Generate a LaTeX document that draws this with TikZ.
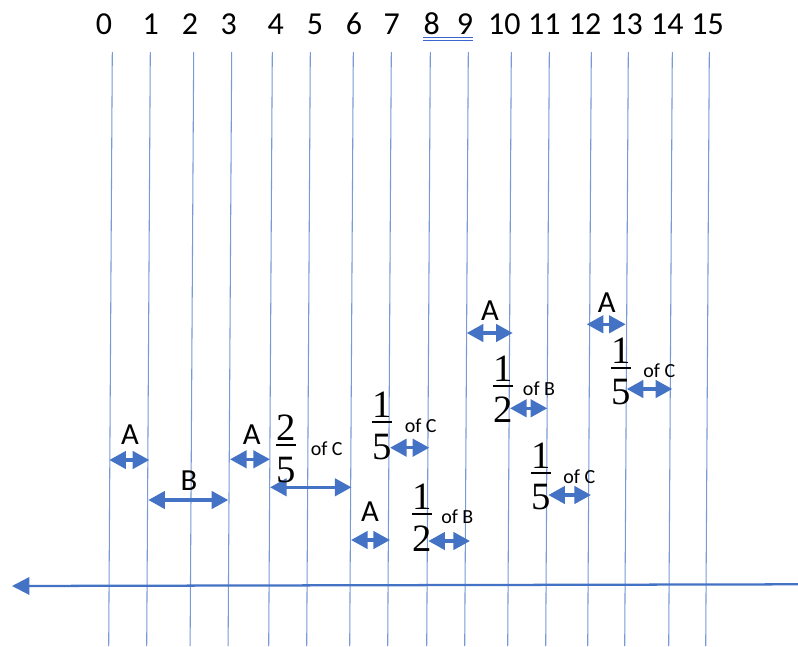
\documentclass[tikz,border=0pt]{standalone}
\usepackage{fontspec}
\setmainfont{Carlito}
\newfontfamily\fracfont{Liberation Serif}
\usepackage{tikz}
\usetikzlibrary{arrows.meta}

\definecolor{office}{HTML}{4472C4}
\definecolor{gridblue}{HTML}{7A9AD6}
\definecolor{ulblue}{HTML}{3B66D0}

% fraction: name, x, y of the bar, numerator, denominator
\newcommand\fracat[5]{%
  \node[fracdigit] (#1n) at (#2,#3-4.5) {#4};
  \node[fracdigit] (#1d) at (#2,#3+37) {#5};
  \coordinate (#1l) at (#2-10,#3);
  \coordinate (#1r) at (#2+10,#3);
  \draw[fbar] (#1l) -- (#1r);}

\begin{document}
\begin{tikzpicture}[
    x=0.75pt, y=-0.75pt,
    gridline/.style={draw=gridblue, line width=0.8pt},
    axis/.style={draw=office, line width=1.7pt, -{Triangle[length=13pt, width=13pt]}},
    span/.style={draw=office, line width=2.6pt,
      {Triangle[length=12.5pt, width=13pt]}-{Triangle[length=12.5pt, width=13pt]}},
    num/.style={anchor=base, inner sep=0pt, font=\fontsize{24}{28}\selectfont},
    letter/.style={anchor=base, inner sep=0pt, font=\fontsize{23}{27}\selectfont},
    ofpart/.style={anchor=base, inner sep=0pt, font=\fontsize{15}{18}\selectfont},
    fracdigit/.style={anchor=base, inner sep=0pt, font=\fracfont\fontsize{29}{33}\selectfont},
    fbar/.style={draw=black, line width=1.5pt},
    uline/.style={draw=ulblue, line width=0.6pt}
  ]
  \useasboundingbox (0,0) rectangle (798,646);

  % vertical lines, slightly slanted
  \foreach \x [count=\i from 0] in {112.3,150.3,193.7,231.7,272.3,310.3,353.3,391.3,
      430.3,468.3,511.3,549.3,591.3,628.3,672.3,709.3} {
    \coordinate (t\i) at (\x,52);
    \coordinate (b\i) at (\x-3.6,646);
    \draw[gridline] (t\i) -- (b\i);
  }

  % numbers on top
  \foreach \x [count=\i from 0] in {104,150.7,190,228.7,275.7,315,354,391.7,
      431.7,465,504.3,544.3,585,626.7,667.3,707.7}
    \node[num] (n\i) at (\x,34) {\i};
  \draw[uline] ([yshift=-2.5pt]n8.base west) -- ([yshift=-2.5pt]n9.base east);
  \draw[uline] ([yshift=-4.5pt]n8.base west) -- ([yshift=-4.5pt]n9.base east);

  % the axis
  \coordinate (axisR) at (798,584.3);
  \coordinate (axisL) at (12,586);
  \draw[axis] (axisR) -- (axisL);

  % spans
  \foreach \xa/\xb/\y [count=\i] in {109.3/149.3/460, 148.3/228.3/500, 230/270/459.3,
      270/351.5/487.3, 390/429.3/447.7, 351/390/540, 428.3/470/541, 466.7/512.7/333,
      510/547.3/408.3, 586.7/625.7/324.3, 626.7/672.3/389, 548.3/591/495} {
    \coordinate (s\i l) at (\xa,\y);
    \coordinate (s\i r) at (\xb,\y);
    \draw[span] (s\i l) -- (s\i r);
  }

  % letters
  \node[letter] (a1) at (130,444) {A};
  \node[letter] (b1) at (189,490) {B};
  \node[letter] (a2) at (251.7,444) {A};
  \node[letter] (a3) at (370,521.7) {A};
  \node[letter] (a4) at (490,320) {A};
  \node[letter] (a5) at (606.7,312.7) {A};

  % fractions
  \fracat{f1}{286}{445}{2}{5}
  \fracat{f2}{381.7}{422.3}{1}{5}
  \fracat{f3}{421.7}{514}{1}{2}
  \fracat{f4}{502.7}{385.7}{1}{2}
  \fracat{f5}{621}{367.7}{1}{5}
  \fracat{f6}{541}{472.7}{1}{5}

  \node[ofpart] (o1) at (326.7,455) {of C};
  \node[ofpart] (o2) at (420.7,432) {of C};
  \node[ofpart] (o3) at (457.3,523) {of B};
  \node[ofpart] (o4) at (539,395) {of B};
  \node[ofpart] (o5) at (659.3,377) {of C};
  \node[ofpart] (o6) at (579.3,483) {of C};
\end{tikzpicture}
\end{document}
